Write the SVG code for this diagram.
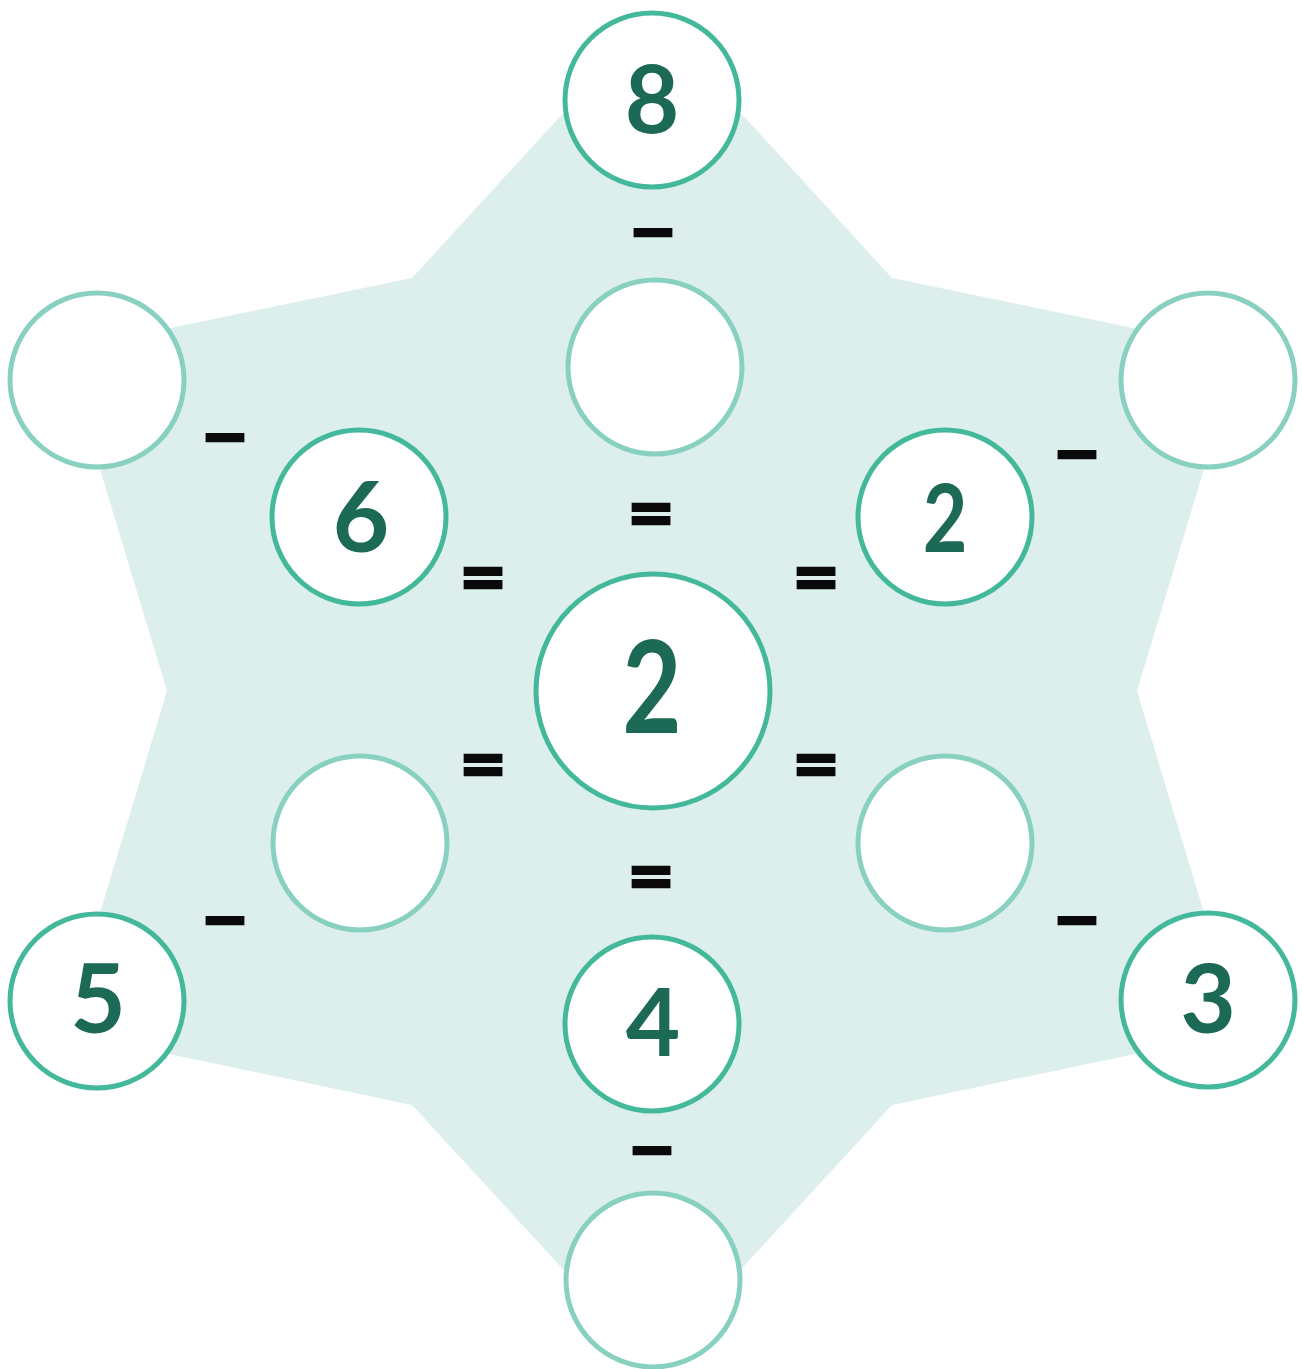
<svg xmlns="http://www.w3.org/2000/svg" width="1302" height="1369" viewBox="0 0 1302 1369">
  <style>
    .bg { fill: #dcefed; }
    .c-full { fill: #ffffff; stroke: #43b89a; stroke-width: 5; }
    .c-empty { fill: #ffffff; stroke: #88d0bf; stroke-width: 5; }
    .num { font-family: Lato, "Liberation Sans", sans-serif; font-weight: 700; fill: #1c6a56; text-anchor: middle; }
    .op { font-family: "DejaVu Sans", sans-serif; font-weight: 700; fill: #0a0a0a; stroke: #0a0a0a; stroke-width: 2.5; text-anchor: middle; font-size: 58px; }
  </style>
  <rect width="1302" height="1369" fill="#ffffff"/>
  <polygon class="bg" points="652,16 892,278 1240,350 1137,691 1240,1032 892,1105 652,1366 412,1105 64,1032 167,691 64,350 412,278"/>

  <g id="n-top"><circle class="c-full" cx="652" cy="100" r="87"/><text class="num" x="652" y="133" font-size="94">8</text></g>
  <g id="n-top-inner"><circle class="c-empty" cx="655" cy="367" r="87"/></g>
  <g id="n-ul"><circle class="c-empty" cx="97" cy="380" r="87"/></g>
  <g id="n-ur"><circle class="c-empty" cx="1208" cy="380" r="87"/></g>
  <g id="n-ul-inner"><circle class="c-full" cx="359" cy="517" r="87"/><text class="num" x="361" y="552" font-size="98">6</text></g>
  <g id="n-ur-inner"><circle class="c-full" cx="945" cy="517" r="87"/><text class="num" x="945" y="552" font-size="94" transform="translate(945 0) scale(0.82 1) translate(-945 0)">2</text></g>
  <g id="n-center"><circle class="c-full" cx="653" cy="691" r="117"/><text class="num" x="652" y="733" font-size="128" transform="translate(652 0) scale(0.8 1) translate(-652 0)">2</text></g>
  <g id="n-ll-inner"><circle class="c-empty" cx="360" cy="843" r="87"/></g>
  <g id="n-lr-inner"><circle class="c-empty" cx="945" cy="843" r="87"/></g>
  <g id="n-ll"><circle class="c-full" cx="97" cy="1001" r="87"/><text class="num" x="98" y="1033" font-size="96">5</text></g>
  <g id="n-lr"><circle class="c-full" cx="1208" cy="1000" r="87"/><text class="num" x="1208" y="1033" font-size="96">3</text></g>
  <g id="n-bottom-inner"><circle class="c-full" cx="652" cy="1024" r="87"/><text class="num" x="653" y="1056" font-size="94">4</text></g>
  <g id="n-bottom"><circle class="c-empty" cx="653" cy="1280" r="87"/></g>

  <g id="connectors">
    <text class="op" x="653" y="251">−</text>
    <text class="op" x="225" y="456">−</text>
    <text class="op" x="1077" y="473">−</text>
    <text class="op" x="225" y="939">−</text>
    <text class="op" x="1077" y="939">−</text>
    <text class="op" x="652" y="1169">−</text>
    <text class="op" x="651" y="532">=</text>
    <text class="op" x="483" y="596">=</text>
    <text class="op" x="816" y="596">=</text>
    <text class="op" x="483" y="783">=</text>
    <text class="op" x="816" y="783">=</text>
    <text class="op" x="651" y="895">=</text>
  </g>
</svg>
